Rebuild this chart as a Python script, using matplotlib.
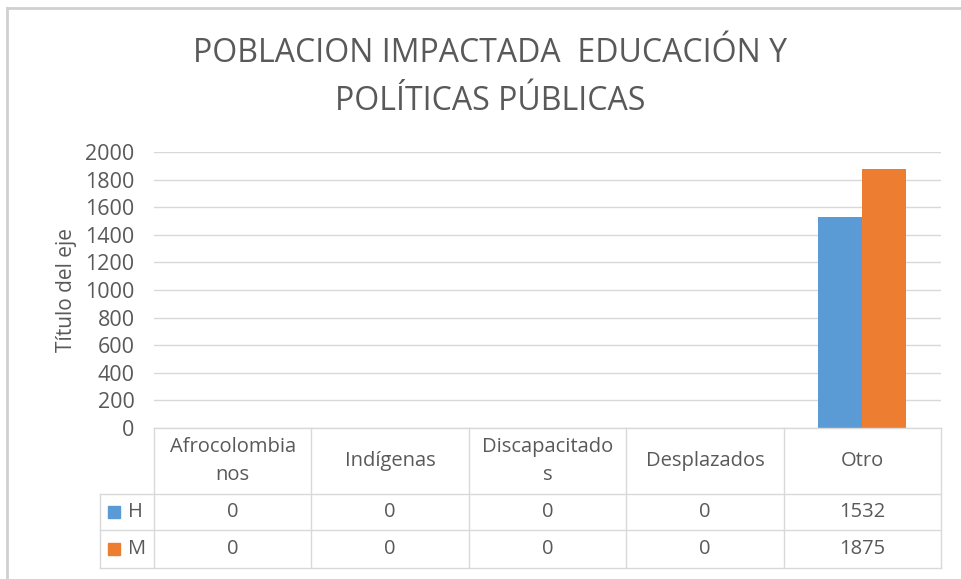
import numpy as np
import matplotlib.pyplot as plt
from matplotlib.patches import Rectangle

categorias = ["Afrocolombia\nnos", "Indígenas", "Discapacitado\ns", "Desplazados", "Otro"]
series = ["H", "M"]
valores_h = [0, 0, 0, 0, 1532]
valores_m = [0, 0, 0, 0, 1875]
colores = ["#5B9BD5", "#ED7D31"]
titulo = "POBLACION IMPACTADA  EDUCACIÓN Y\nPOLÍTICAS PÚBLICAS"
titulo_eje = "Título del eje"

plt.rcParams['font.family'] = ['Open Sans', 'DejaVu Sans']
texto = "#595959"
linea = "#D9D9D9"

W, H = 961, 579
fig = plt.figure(figsize=(W / 100, H / 100), dpi=100)

def px(x0, y0, x1, y1):
    # rectangulo en pixeles (origen arriba-izquierda) -> coordenadas de figura
    return [x0 / W, 1 - y1 / H, (x1 - x0) / W, (y1 - y0) / H]

# marco del grafico
fondo = fig.add_axes([0, 0, 1, 1])
fondo.set_xlim(0, W)
fondo.set_ylim(H, 0)
fondo.axis("off")
fondo.plot([7, 7], [8, H], color="#D0D0D0", lw=2)
fondo.plot([7, W], [8, 8], color="#D0D0D0", lw=2)

x_izq, x_der, y_sup, y_inf = 154, 941, 152, 428
ax = fig.add_axes(px(x_izq, y_sup, x_der, y_inf))
x = np.arange(len(categorias))
ancho = 0.28
ax.bar(x - ancho / 2, valores_h, ancho, color=colores[0], zorder=3)
ax.bar(x + ancho / 2, valores_m, ancho, color=colores[1], zorder=3)
ax.set_xlim(-0.5, len(categorias) - 0.5)
ax.set_ylim(0, 2000)
ax.set_yticks(np.arange(0, 2001, 200))
ax.yaxis.grid(True, color=linea, lw=1)
ax.set_axisbelow(True)
ax.set_xticks([])
for s in ax.spines.values():
    s.set_visible(False)
ax.tick_params(axis="y", length=0, pad=14, labelsize=15.5, labelcolor=texto)
ax.set_ylabel(titulo_eje, fontsize=15, color=texto, labelpad=6)

fig.text(490 / W, 1 - 78 / H, titulo, ha="center", va="center",
         fontsize=23, color=texto, linespacing=1.6)

# tabla de datos
tab = fig.add_axes(px(0, 0, W, H))
tab.set_xlim(0, W)
tab.set_ylim(H, 0)
tab.axis("off")
n = len(categorias)
col = (x_der - x_izq) / n
bordes = [x_izq + i * col for i in range(n + 1)]
filas = [y_inf, 494, 530, 568]
x_leyenda = 100

tab.plot([x_izq, x_der], [filas[0], filas[0]], color=linea, lw=1)
for yy in filas[1:]:
    tab.plot([x_leyenda, x_der], [yy, yy], color=linea, lw=1)
tab.plot([x_leyenda, x_leyenda], [filas[1], filas[3]], color=linea, lw=1)
for xx in bordes:
    tab.plot([xx, xx], [filas[0], filas[3]], color=linea, lw=1)

for i, c in enumerate(categorias):
    tab.text((bordes[i] + bordes[i + 1]) / 2, (filas[0] + filas[1]) / 2, c,
             ha="center", va="center", fontsize=14.5, color=texto, linespacing=1.5)

for j, (nombre, vals) in enumerate(zip(series, [valores_h, valores_m])):
    yc = (filas[j + 1] + filas[j + 2]) / 2
    tab.add_patch(Rectangle((108, yc - 6), 12, 12, color=colores[j]))
    tab.text(128, yc, nombre, ha="left", va="center", fontsize=14.5, color=texto)
    for i, v in enumerate(vals):
        tab.text((bordes[i] + bordes[i + 1]) / 2, yc, str(v),
                 ha="center", va="center", fontsize=14.5, color=texto)

fig.savefig("out.png", dpi=100)
